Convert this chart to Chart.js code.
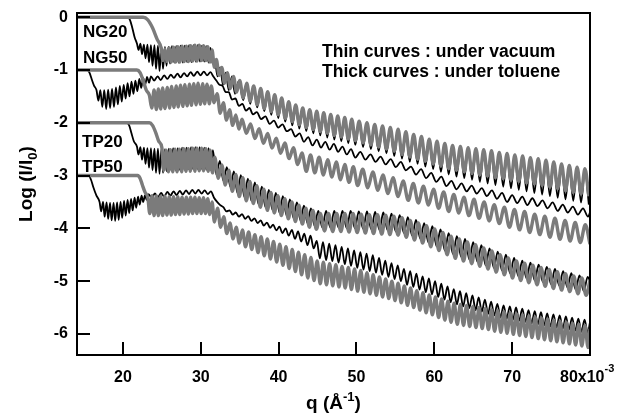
<!DOCTYPE html>
<html>
<head>
<meta charset="utf-8">
<script src="https://cdn.jsdelivr.net/npm/chart.js@4.4.0/dist/chart.umd.min.js"></script>
<style>
  html, body { margin: 0; padding: 0; background: #fff; }
  canvas { display: block; }
</style>
</head>
<body>
<canvas id="refl" width="623" height="416"></canvas>
<script>
// axis ticks: q in units of 1e-3 A^-1, Log(I/I0)
const qTicks = [20, 30, 40, 50, 60, 70, 80];
const logTicks = [0, -1, -2, -3, -4, -5, -6];
const sampleNames = ['NG20', 'NG50', 'TP20', 'TP50'];
const noteLines = ['Thin curves : under vacuum', 'Thick curves : under toluene'];

// [q, log(I/I0)] (fringe peaks and troughs)
const ng20Vacuum = [[14.1,0],[20.6,0],[20.9,-0.05],[21.2,-0.2],[21.5,-0.38],[21.8,-0.5],
  [22.0,-0.62],[22.25,-0.5],[22.45,-0.7],[22.7,-0.52],[22.9,-0.78],[23.15,-0.52],[23.35,-0.85],[23.6,-0.53],[23.8,-0.92],[24.05,-0.53],[24.25,-0.98],[24.5,-0.54],[24.7,-1.02],[24.95,-0.55],[25.15,-0.98],[25.4,-0.56],[25.6,-0.92],[25.85,-0.56],[26.05,-0.88],[26.3,-0.55],
  [26.6,-0.86],[26.85,-0.55],[27.15,-0.86],[27.4,-0.54],[27.7,-0.86],[27.95,-0.54],[28.25,-0.85],[28.5,-0.53],[28.8,-0.85],[29.05,-0.53],[29.35,-0.84],[29.6,-0.53],[29.9,-0.84],[30.15,-0.54],[30.45,-0.84],[30.7,-0.55],[31.0,-0.86],[31.25,-0.58],[31.5,-0.88],
  [31.8,-0.82],[32.15,-1.12],[32.5,-0.95],[32.85,-1.28],[33.2,-1.05],[33.6,-1.38],[34.0,-1.12],[34.4,-1.45],[34.9,-1.2],
  [35.45,-1.57],[35.9,-1.27],[36.35,-1.64],[36.8,-1.32],[37.25,-1.71],[37.7,-1.37],[38.15,-1.78],[38.6,-1.43],[39.05,-1.85],[39.5,-1.49],[39.95,-1.91],[40.4,-1.55],[40.85,-1.98],[41.3,-1.62],[41.75,-2.05],[42.2,-1.68],[42.65,-2.11],[43.1,-1.74],[43.55,-2.16],[44.0,-1.77],[44.45,-2.2],[44.9,-1.8],[45.35,-2.24],[45.8,-1.83],[46.25,-2.28],[46.7,-1.86],[47.15,-2.32],[47.6,-1.89],[48.05,-2.35],[48.5,-1.92],[48.95,-2.39],[49.4,-1.95],[49.85,-2.42],
  [50.35,-1.99],[50.85,-2.46],[51.35,-2.02],[51.85,-2.5],[52.35,-2.05],[52.85,-2.54],[53.35,-2.08],[53.85,-2.58],[54.35,-2.11],[54.85,-2.63],[55.35,-2.14],[55.85,-2.68],[56.35,-2.19],[56.85,-2.74],[57.35,-2.24],[57.85,-2.78],[58.35,-2.28],[58.85,-2.83],[59.35,-2.33],[59.85,-2.88],[60.35,-2.37],[60.85,-2.93],[61.35,-2.41],[61.85,-2.98],[62.35,-2.45],[62.85,-3.02],[63.35,-2.47],[63.85,-3.05],[64.35,-2.49],[64.85,-3.08],[65.35,-2.51],[65.85,-3.12],[66.35,-2.53],[66.85,-3.15],[67.35,-2.56],[67.85,-3.18],[68.35,-2.58],[68.85,-3.21],[69.35,-2.61],[69.85,-3.24],[70.35,-2.63],[70.85,-3.27],[71.35,-2.66],[71.85,-3.3],[72.35,-2.68],[72.85,-3.33],[73.35,-2.71],[73.85,-3.36],[74.35,-2.74],[74.85,-3.39],[75.35,-2.77],[75.85,-3.42],[76.35,-2.8],[76.85,-3.45],[77.35,-2.83],[77.85,-3.48],[78.35,-2.86],[78.85,-3.51],[79.35,-2.89],[79.85,-3.55]];

const ng20Toluene = [[14.1,0],[22.6,0],[23.2,-0.05],[23.8,-0.2],[24.4,-0.42],[24.9,-0.58],
  [25.15,-0.82],[25.4,-0.6],[25.65,-0.84],[25.95,-0.58],[26.2,-0.85],[26.5,-0.57],[26.75,-0.85],[27.05,-0.56],[27.3,-0.85],[27.6,-0.55],[27.85,-0.84],[28.15,-0.55],[28.4,-0.84],[28.7,-0.54],[28.95,-0.83],[29.25,-0.53],[29.5,-0.83],[29.8,-0.53],[30.1,-0.82],[30.35,-0.54],[30.65,-0.82],[30.9,-0.56],[31.2,-0.85],[31.45,-0.62],
  [31.75,-0.95],[32.0,-0.8],[32.35,-1.1],[32.7,-0.95],[33.05,-1.25],[33.4,-1.05],[33.8,-1.35],[34.2,-1.12],[34.6,-1.42],[35.0,-1.2],
  [35.45,-1.53],[35.9,-1.25],[36.35,-1.59],[36.8,-1.3],[37.25,-1.66],[37.7,-1.35],[38.15,-1.73],[38.6,-1.41],[39.05,-1.79],[39.5,-1.47],[39.95,-1.85],[40.4,-1.53],[40.85,-1.92],[41.3,-1.6],[41.75,-1.98],[42.2,-1.66],[42.65,-2.04],[43.1,-1.72],[43.55,-2.09],[44.0,-1.75],[44.45,-2.13],[44.9,-1.78],[45.35,-2.17],[45.8,-1.81],[46.25,-2.2],[46.7,-1.84],[47.15,-2.24],[47.6,-1.87],[48.05,-2.27],[48.5,-1.9],[48.95,-2.31],[49.4,-1.93],[49.85,-2.34],
  [50.35,-1.97],[50.85,-2.38],[51.35,-2.0],[51.85,-2.42],[52.35,-2.03],[52.85,-2.46],[53.35,-2.06],[53.85,-2.5],[54.35,-2.09],[54.85,-2.54],[55.35,-2.12],[55.85,-2.6],[56.35,-2.17],[56.85,-2.65],[57.35,-2.22],[57.85,-2.69],[58.35,-2.26],[58.85,-2.73],[59.35,-2.31],[59.85,-2.78],[60.35,-2.35],[60.85,-2.82],[61.35,-2.39],[61.85,-2.87],[62.35,-2.43],[62.85,-2.9],[63.35,-2.45],[63.85,-2.93],[64.35,-2.47],[64.85,-2.96],[65.35,-2.49],[65.85,-2.99],[66.35,-2.51],[66.85,-3.01],[67.35,-2.53],[67.85,-3.04],[68.35,-2.56],[68.85,-3.06],[69.35,-2.58],[69.85,-3.09],[70.35,-2.61],[70.85,-3.11],[71.35,-2.63],[71.85,-3.14],[72.35,-2.66],[72.85,-3.16],[73.35,-2.68],[73.85,-3.19],[74.35,-2.71],[74.85,-3.22],[75.35,-2.74],[75.85,-3.25],[76.35,-2.78],[76.85,-3.29],[77.35,-2.81],[77.85,-3.32],[78.35,-2.84],[78.85,-3.35],[79.35,-2.87],[79.85,-3.39]];

const ng50Vacuum = [[14.1,-1],[15.4,-1],[15.7,-1.05],[16.0,-1.18],[16.3,-1.3],[16.6,-1.38],
  [16.85,-1.58],[17.1,-1.38],[17.35,-1.7],[17.6,-1.38],[17.85,-1.74],[18.1,-1.37],[18.35,-1.72],[18.6,-1.36],[18.85,-1.7],[19.1,-1.33],[19.35,-1.65],[19.6,-1.3],[19.85,-1.6],[20.1,-1.28],[20.35,-1.54],[20.6,-1.25],[20.85,-1.5],[21.1,-1.22],[21.35,-1.45],[21.6,-1.2],[21.85,-1.4],[22.1,-1.17],[22.35,-1.34],[22.6,-1.15],[22.85,-1.28],[23.1,-1.13],[23.35,-1.24],[23.6,-1.12],
  [24.0,-1.2],[24.45,-1.12],[24.85,-1.19],[25.3,-1.1],[25.7,-1.17],[26.15,-1.09],[26.55,-1.15],[27.0,-1.07],[27.4,-1.14],[27.85,-1.06],[28.25,-1.12],[28.7,-1.04],[29.1,-1.11],[29.55,-1.03],[29.95,-1.1],[30.4,-1.03],[30.8,-1.1],[31.25,-1.04],[31.6,-1.12],
  [32.0,-1.2],[32.4,-1.28],[32.8,-1.3],[33.2,-1.42],[33.6,-1.42],[34.0,-1.56],[34.45,-1.54],[34.9,-1.68],[35.35,-1.64],[35.8,-1.77],[36.25,-1.72],[36.7,-1.84],
  [37.2,-1.8],[37.75,-1.93],[38.3,-1.88],[38.85,-2.02],[39.4,-1.96],[39.95,-2.09],[40.5,-2.03],[41.05,-2.16],[41.6,-2.12],[42.15,-2.26],[42.7,-2.2],[43.25,-2.36],[43.8,-2.27],[44.35,-2.43],[44.9,-2.32],[45.45,-2.47],[46.0,-2.36],[46.55,-2.51],[47.1,-2.4],[47.65,-2.55],[48.2,-2.45],[48.75,-2.6],[49.3,-2.5],[49.85,-2.66],
  [50.5,-2.55],[51.15,-2.7],[51.8,-2.6],[52.45,-2.74],[53.1,-2.64],[53.75,-2.79],[54.4,-2.69],[55.05,-2.84],[55.7,-2.74],[56.35,-2.9],[57.0,-2.83],[57.65,-2.98],[58.3,-2.88],[58.95,-3.05],[59.6,-2.95],[60.25,-3.12],[60.9,-3.02],[61.55,-3.2],[62.2,-3.1],[62.85,-3.26],[63.5,-3.15],[64.15,-3.3],[64.8,-3.19],[65.45,-3.34],[66.1,-3.24],[66.75,-3.39],[67.4,-3.28],[68.05,-3.44],[68.7,-3.33],[69.35,-3.5],[70.0,-3.37],[70.65,-3.52],[71.3,-3.4],[71.95,-3.56],[72.6,-3.43],[73.25,-3.58],[73.9,-3.47],[74.55,-3.62],[75.2,-3.51],[75.85,-3.67],[76.5,-3.55],[77.15,-3.7],[77.8,-3.59],[78.45,-3.74],[79.1,-3.62],[79.75,-3.78],[80.0,-3.7]];

const ng50Toluene = [[14.1,-1],[21.8,-1],[22.2,-1.05],[22.6,-1.2],[23.0,-1.38],[23.4,-1.48],
  [23.7,-1.72],[24.0,-1.38],[24.3,-1.75],[24.55,-1.36],[24.85,-1.74],[25.1,-1.34],[25.4,-1.73],[25.7,-1.33],[26.0,-1.72],[26.25,-1.31],[26.55,-1.71],[26.85,-1.3],[27.1,-1.7],[27.4,-1.29],[27.7,-1.69],[27.95,-1.28],[28.25,-1.68],[28.55,-1.27],[28.8,-1.67],[29.1,-1.26],[29.4,-1.66],[29.65,-1.25],[29.95,-1.65],[30.25,-1.26],[30.5,-1.64],[30.8,-1.27],[31.1,-1.64],[31.35,-1.3],
  [31.7,-1.62],[32.1,-1.45],[32.5,-1.82],[32.9,-1.62],[33.3,-1.95],[33.7,-1.75],[34.1,-2.05],[34.5,-1.85],[34.9,-2.12],
  [35.3,-1.93],[35.85,-2.2],[36.4,-2.02],[36.95,-2.3],[37.5,-2.11],[38.05,-2.39],[38.6,-2.2],[39.15,-2.48],[39.7,-2.29],[40.25,-2.58],[40.8,-2.38],[41.35,-2.68],[41.9,-2.47],[42.45,-2.79],[43.0,-2.57],[43.55,-2.92],[44.1,-2.61],[44.65,-2.95],[45.2,-2.65],[45.75,-2.99],[46.3,-2.7],[46.85,-3.03],[47.4,-2.74],[47.95,-3.08],[48.5,-2.79],[49.05,-3.13],[49.6,-2.83],[50.15,-3.19],
  [50.8,-2.88],[51.45,-3.23],[52.1,-2.93],[52.75,-3.28],[53.4,-2.99],[54.05,-3.34],[54.7,-3.04],[55.35,-3.4],[56.0,-3.1],[56.65,-3.47],[57.3,-3.15],[57.95,-3.52],[58.6,-3.2],[59.25,-3.56],[59.9,-3.26],[60.55,-3.62],[61.2,-3.31],[61.85,-3.68],[62.5,-3.36],[63.15,-3.71],[63.8,-3.41],[64.45,-3.76],[65.1,-3.45],[65.75,-3.81],[66.4,-3.5],[67.05,-3.86],[67.7,-3.55],[68.35,-3.91],[69.0,-3.6],[69.65,-3.98],[70.3,-3.64],[70.95,-4.03],[71.6,-3.68],[72.25,-4.08],[72.9,-3.73],[73.55,-4.12],[74.2,-3.77],[74.85,-4.17],[75.5,-3.81],[76.15,-4.21],[76.8,-3.85],[77.45,-4.24],[78.1,-3.89],[78.75,-4.27],[79.4,-3.93],[80.0,-4.3]];

const tp20Vacuum = [[14.1,-2],[20.5,-2],[20.8,-2.05],[21.1,-2.2],[21.4,-2.35],[21.8,-2.45],
  [22.0,-2.6],[22.25,-2.46],[22.45,-2.7],[22.7,-2.47],[22.9,-2.78],[23.15,-2.48],[23.35,-2.85],[23.6,-2.48],[23.8,-2.9],[24.05,-2.49],[24.25,-2.95],[24.5,-2.49],[24.7,-2.97],[24.95,-2.5],[25.15,-2.95],[25.4,-2.5],[25.6,-2.92],
  [25.9,-2.49],[26.2,-2.9],[26.45,-2.48],[26.75,-2.9],[27.05,-2.48],[27.3,-2.89],[27.6,-2.47],[27.9,-2.89],[28.15,-2.47],[28.45,-2.88],[28.75,-2.46],[29.0,-2.88],[29.3,-2.46],[29.6,-2.88],[29.85,-2.46],[30.15,-2.88],[30.45,-2.47],[30.7,-2.89],[31.0,-2.48],[31.3,-2.9],[31.55,-2.52],
  [32.0,-2.98],[32.45,-2.72],[32.9,-3.1],[33.35,-2.84],[33.8,-3.22],[34.25,-2.92],[34.7,-3.33],[35.15,-2.99],[35.6,-3.41],[36.05,-3.06],[36.5,-3.48],[36.95,-3.13],[37.4,-3.54],[37.85,-3.21],[38.3,-3.6],[38.75,-3.27],[39.2,-3.65],[39.65,-3.33],[40.1,-3.7],[40.55,-3.39],[41.0,-3.75],[41.45,-3.45],[41.9,-3.8],[42.35,-3.51],[42.8,-3.85],[43.25,-3.57],[43.7,-3.9],[44.15,-3.62],[44.6,-3.95],[45.1,-3.67],
  [45.6,-3.98],[46.1,-3.67],[46.65,-3.99],[47.15,-3.67],[47.7,-3.99],[48.2,-3.67],[48.75,-4.0],[49.25,-3.67],[49.8,-4.0],[50.3,-3.68],[50.85,-4.01],[51.35,-3.68],[51.9,-4.02],[52.4,-3.69],[52.95,-4.03],[53.45,-3.7],[54.0,-4.04],[54.5,-3.72],[55.05,-4.06],[55.55,-3.75],[56.1,-4.09],[56.6,-3.79],[57.15,-4.14],[57.65,-3.84],[58.2,-4.2],[58.7,-3.9],[59.25,-4.27],[59.75,-3.96],[60.3,-4.34],[60.8,-4.02],[61.35,-4.42],[61.85,-4.09],[62.4,-4.49],[62.9,-4.15],[63.45,-4.54],[63.95,-4.2],[64.5,-4.59],[65.0,-4.26],[65.55,-4.64],[66.05,-4.32],[66.6,-4.7],[67.1,-4.38],[67.65,-4.75],[68.15,-4.44],[68.7,-4.8],[69.2,-4.5],[69.75,-4.86],[70.25,-4.56],[70.8,-4.91],[71.3,-4.61],[71.85,-4.95],[72.35,-4.65],[72.9,-4.99],[73.4,-4.69],[73.95,-5.02],[74.45,-4.73],[75.0,-5.06],[75.5,-4.77],[76.05,-5.09],[76.55,-4.81],[77.1,-5.12],[77.6,-4.85],[78.15,-5.16],[78.65,-4.89],[79.2,-5.19],[79.7,-4.92],[80.0,-5.0]];

const tp20Toluene = [[14.1,-2],[23.4,-2],[23.8,-2.05],[24.2,-2.18],[24.6,-2.35],[25.0,-2.47],
  [25.25,-2.9],[25.55,-2.52],[25.85,-2.93],[26.1,-2.51],[26.4,-2.93],[26.7,-2.5],[26.95,-2.93],[27.25,-2.5],[27.55,-2.93],[27.8,-2.49],[28.1,-2.92],[28.4,-2.49],[28.65,-2.92],[28.95,-2.48],[29.25,-2.92],[29.5,-2.48],[29.8,-2.91],[30.1,-2.48],[30.35,-2.91],[30.65,-2.49],[30.95,-2.92],[31.2,-2.52],[31.5,-2.95],
  [31.8,-2.65],[32.25,-3.05],[32.7,-2.8],[33.15,-3.18],[33.6,-2.9],[34.05,-3.3],[34.5,-2.98],[34.95,-3.4],[35.4,-3.04],[35.85,-3.48],[36.3,-3.11],[36.75,-3.53],[37.2,-3.19],[37.65,-3.6],[38.1,-3.26],[38.55,-3.66],[39.0,-3.32],[39.45,-3.71],[39.9,-3.38],[40.35,-3.76],[40.8,-3.44],[41.25,-3.82],[41.7,-3.5],[42.15,-3.87],[42.6,-3.56],[43.05,-3.92],[43.5,-3.62],[43.95,-3.98],[44.4,-3.66],[44.85,-4.02],
  [45.35,-3.72],[45.9,-4.05],[46.4,-3.72],[46.95,-4.06],[47.45,-3.72],[48.0,-4.06],[48.5,-3.72],[49.05,-4.07],[49.55,-3.72],[50.1,-4.08],[50.6,-3.73],[51.15,-4.09],[51.65,-3.74],[52.2,-4.1],[52.7,-3.74],[53.25,-4.11],[53.75,-3.75],[54.3,-4.12],[54.8,-3.77],[55.35,-4.13],[55.85,-3.8],[56.4,-4.17],[56.9,-3.85],[57.45,-4.22],[57.95,-3.9],[58.5,-4.28],[59.0,-3.95],[59.55,-4.35],[60.05,-4.01],[60.6,-4.42],[61.1,-4.08],[61.65,-4.5],[62.15,-4.15],[62.7,-4.57],[63.2,-4.2],[63.75,-4.62],[64.25,-4.26],[64.8,-4.67],[65.3,-4.31],[65.85,-4.72],[66.35,-4.37],[66.9,-4.77],[67.4,-4.43],[67.95,-4.83],[68.45,-4.5],[69.0,-4.88],[69.5,-4.56],[70.05,-4.94],[70.55,-4.62],[71.1,-4.99],[71.6,-4.66],[72.15,-5.03],[72.65,-4.7],[73.2,-5.07],[73.7,-4.74],[74.25,-5.1],[74.75,-4.78],[75.3,-5.14],[75.8,-4.82],[76.35,-5.17],[76.85,-4.86],[77.4,-5.2],[77.9,-4.9],[78.45,-5.24],[78.95,-4.94],[79.5,-5.27],[80.0,-4.98]];

const tp50Vacuum = [[14.1,-3],[15.6,-3],[15.9,-3.08],[16.2,-3.22],[16.6,-3.38],[17.0,-3.5],
  [17.2,-3.68],[17.45,-3.5],[17.65,-3.78],[17.9,-3.51],[18.1,-3.82],[18.35,-3.52],[18.55,-3.85],[18.8,-3.52],[19.0,-3.86],[19.25,-3.51],[19.45,-3.84],[19.7,-3.5],[19.9,-3.8],[20.15,-3.48],[20.35,-3.76],[20.6,-3.46],[20.8,-3.71],[21.05,-3.44],[21.25,-3.66],[21.5,-3.42],[21.7,-3.61],[21.95,-3.4],[22.15,-3.55],[22.4,-3.38],[22.6,-3.5],[22.85,-3.37],[23.05,-3.46],
  [23.3,-3.35],[23.7,-3.43],[24.1,-3.34],[24.5,-3.41],[24.9,-3.33],[25.3,-3.4],[25.7,-3.31],[26.1,-3.38],[26.5,-3.3],[26.9,-3.37],[27.3,-3.29],[27.7,-3.36],[28.1,-3.28],[28.5,-3.35],[28.9,-3.27],[29.3,-3.34],[29.7,-3.27],[30.1,-3.34],[30.5,-3.28],[30.9,-3.35],[31.3,-3.3],
  [31.7,-3.42],[32.1,-3.5],[32.5,-3.56],[32.9,-3.6],[33.3,-3.68],[33.7,-3.66],[34.1,-3.74],[34.5,-3.7],[34.9,-3.78],[35.3,-3.73],[35.7,-3.82],[36.1,-3.77],[36.5,-3.86],[36.9,-3.81],[37.3,-3.9],[37.7,-3.85],[38.1,-3.95],[38.5,-3.89],[38.9,-3.99],[39.3,-3.93],[39.7,-4.04],[40.1,-3.97],[40.5,-4.09],[40.9,-4.0],[41.3,-4.14],[41.7,-4.03],[42.1,-4.2],[42.5,-4.06],[42.9,-4.25],[43.3,-4.1],[43.7,-4.32],[44.1,-4.14],[44.5,-4.38],
  [44.9,-4.24],[45.3,-4.57],[45.7,-4.26],[46.1,-4.6],[46.5,-4.29],[46.9,-4.62],[47.3,-4.32],[47.7,-4.65],[48.1,-4.35],[48.5,-4.68],[48.9,-4.38],[49.3,-4.71],[49.7,-4.42],[50.1,-4.75],[50.5,-4.45],[50.9,-4.78],[51.3,-4.48],[51.7,-4.81],[52.1,-4.51],[52.5,-4.84],[52.9,-4.56],[53.3,-4.88],[53.7,-4.61],[54.1,-4.92],[54.5,-4.66],[54.9,-4.96],[55.3,-4.7],[55.7,-5.0],[56.1,-4.77],[56.5,-5.07],[56.9,-4.81],[57.3,-5.11],[57.7,-4.86],[58.1,-5.16],[58.5,-4.91],[58.9,-5.21],[59.3,-4.95],[59.7,-5.25],[60.1,-5.0],[60.5,-5.3],[60.9,-5.05],[61.3,-5.35],[61.7,-5.1],[62.1,-5.4],[62.5,-5.15],[62.9,-5.44],[63.3,-5.19],[63.7,-5.48],[64.1,-5.23],[64.5,-5.51],[64.9,-5.27],[65.3,-5.55],[65.7,-5.31],[66.1,-5.58],[66.5,-5.35],[66.9,-5.62],[67.3,-5.39],[67.7,-5.65],[68.1,-5.43],[68.5,-5.69],[68.9,-5.46],[69.3,-5.71],[69.7,-5.48],[70.1,-5.73],[70.5,-5.5],[70.9,-5.75],[71.3,-5.52],[71.7,-5.77],[72.1,-5.55],[72.5,-5.8],[72.9,-5.57],[73.3,-5.82],[73.7,-5.59],[74.1,-5.84],[74.5,-5.61],[74.9,-5.86],[75.3,-5.63],[75.7,-5.88],[76.1,-5.65],[76.5,-5.9],[76.9,-5.67],[77.3,-5.92],[77.7,-5.69],[78.1,-5.94],[78.5,-5.71],[78.9,-5.96],[79.3,-5.73],[79.7,-5.98],[80.0,-5.78]];

const tp50Toluene = [[14.1,-3],[21.9,-3],[22.2,-3.05],[22.5,-3.18],[22.85,-3.32],[23.2,-3.42],
  [23.45,-3.72],[23.75,-3.38],[24.0,-3.76],[24.3,-3.38],[24.55,-3.76],[24.85,-3.39],[25.1,-3.76],[25.4,-3.39],[25.65,-3.75],[25.95,-3.4],[26.2,-3.75],[26.5,-3.4],[26.75,-3.74],[27.05,-3.4],[27.3,-3.74],[27.6,-3.41],[27.85,-3.73],[28.15,-3.41],[28.4,-3.73],[28.7,-3.41],[28.95,-3.72],[29.25,-3.41],[29.5,-3.72],[29.8,-3.42],[30.05,-3.72],[30.35,-3.42],[30.6,-3.72],[30.9,-3.44],[31.15,-3.74],[31.45,-3.5],
  [31.75,-3.88],[32.15,-3.62],[32.55,-3.98],[32.95,-3.78],[33.35,-4.1],[33.75,-3.9],[34.15,-4.2],[34.55,-3.98],[34.95,-4.28],[35.35,-4.03],[35.75,-4.35],[36.15,-4.07],[36.55,-4.4],[36.95,-4.12],[37.35,-4.46],[37.75,-4.16],[38.15,-4.52],[38.55,-4.2],[38.95,-4.58],[39.35,-4.25],[39.75,-4.64],[40.15,-4.3],[40.55,-4.7],[40.95,-4.35],[41.35,-4.76],[41.75,-4.4],[42.15,-4.82],[42.55,-4.45],[42.95,-4.88],[43.35,-4.5],[43.75,-4.94],[44.15,-4.55],[44.55,-4.99],
  [44.95,-4.62],[45.35,-5.05],[45.75,-4.64],[46.15,-5.07],[46.55,-4.67],[46.95,-5.09],[47.35,-4.69],[47.75,-5.11],[48.15,-4.72],[48.55,-5.13],[48.95,-4.74],[49.35,-5.16],[49.75,-4.77],[50.15,-5.19],[50.55,-4.8],[50.95,-5.21],[51.35,-4.84],[51.75,-5.24],[52.15,-4.88],[52.55,-5.27],[52.95,-4.92],[53.35,-5.3],[53.75,-4.96],[54.15,-5.33],[54.55,-5.0],[54.95,-5.37],[55.35,-5.04],[55.75,-5.41],[56.15,-5.09],[56.55,-5.46],[56.95,-5.13],[57.35,-5.5],[57.75,-5.18],[58.15,-5.55],[58.55,-5.22],[58.95,-5.6],[59.35,-5.26],[59.75,-5.64],[60.15,-5.3],[60.55,-5.69],[60.95,-5.34],[61.35,-5.74],[61.75,-5.38],[62.15,-5.78],[62.55,-5.42],[62.95,-5.82],[63.35,-5.44],[63.75,-5.84],[64.15,-5.46],[64.55,-5.86],[64.95,-5.48],[65.35,-5.88],[65.75,-5.5],[66.15,-5.9],[66.55,-5.52],[66.95,-5.92],[67.35,-5.54],[67.75,-5.95],[68.15,-5.56],[68.55,-5.97],[68.95,-5.58],[69.35,-5.99],[69.75,-5.6],[70.15,-6.01],[70.55,-5.62],[70.95,-6.03],[71.35,-5.64],[71.75,-6.05],[72.15,-5.66],[72.55,-6.07],[72.95,-5.68],[73.35,-6.09],[73.75,-5.7],[74.15,-6.11],[74.55,-5.72],[74.95,-6.13],[75.35,-5.74],[75.75,-6.15],[76.15,-5.76],[76.55,-6.17],[76.95,-5.78],[77.35,-6.19],[77.75,-5.8],[78.15,-6.21],[78.55,-5.82],[78.95,-6.23],[79.35,-5.84],[79.75,-6.26],[80.0,-5.9]];

const FONT = '"Liberation Sans", Arial, sans-serif';
const GREY = '#7b7b7b';

// thick grey curves sit on top of the thin black ones
function thin(label, data) {
  return { label, data, borderColor: '#000', borderWidth: 1.8, order: 1 };
}
function thick(label, data) {
  return { label, data, borderColor: GREY, borderWidth: 3.4, order: 0 };
}

// text made of pieces: [text, size, baseline shift]
function piecesWidth(ctx, pieces) {
  let w = 0;
  pieces.forEach(([t, s]) => { ctx.font = `bold ${s}px ${FONT}`; w += ctx.measureText(t).width; });
  return w;
}
function drawPieces(ctx, pieces, x, y) {
  let cx = x;
  pieces.forEach(([t, s, dy]) => {
    ctx.font = `bold ${s}px ${FONT}`;
    ctx.fillText(t, cx, y + dy);
    cx += ctx.measureText(t).width;
  });
}

const axesPlugin = {
  id: 'axesPlugin',
  afterDraw(chart) {
    const { ctx, chartArea: a, scales: { x, y } } = chart;
    ctx.save();
    ctx.strokeStyle = '#000';
    ctx.fillStyle = '#000';
    ctx.lineWidth = 2;
    ctx.strokeRect(a.left, a.top, a.right - a.left, a.bottom - a.top);

    // inward tick marks
    ctx.beginPath();
    qTicks.forEach(v => {
      if (v >= 80) return;
      const px = Math.round(x.getPixelForValue(v));
      ctx.moveTo(px, a.bottom);
      ctx.lineTo(px, a.bottom - 13);
    });
    logTicks.forEach(v => {
      const py = Math.round(y.getPixelForValue(v));
      ctx.moveTo(a.left, py);
      ctx.lineTo(a.left + 13, py);
    });
    ctx.stroke();

    // tick labels
    ctx.font = `bold 16px ${FONT}`;
    ctx.textBaseline = 'middle';
    ctx.textAlign = 'right';
    logTicks.forEach(v => ctx.fillText(String(v), a.left - 9, y.getPixelForValue(v)));
    ctx.textBaseline = 'alphabetic';
    qTicks.forEach(v => {
      const px = x.getPixelForValue(v);
      if (v === 80) {
        ctx.textAlign = 'left';
        drawPieces(ctx, [['80x10', 16, 0], ['-3', 11, -10]], px - 30, a.bottom + 27);
      } else {
        ctx.textAlign = 'center';
        ctx.font = `bold 16px ${FONT}`;
        ctx.fillText(String(v), px, a.bottom + 27);
      }
    });

    // axis titles
    ctx.textAlign = 'left';
    const xt = [['q (\u00C5', 19, 0], ['-1', 13, -8], [')', 19, 0]];
    drawPieces(ctx, xt, (a.left + a.right) / 2 - piecesWidth(ctx, xt) / 2, 409);
    const yt = [['Log (I/I', 19, 0], ['0', 13, 5], [')', 19, 0]];
    ctx.save();
    ctx.translate(32, (a.top + a.bottom) / 2);
    ctx.rotate(-Math.PI / 2);
    drawPieces(ctx, yt, -piecesWidth(ctx, yt) / 2, 0);
    ctx.restore();

    // sample names and note
    ctx.font = `bold 17px ${FONT}`;
    const namePos = [[83, 37], [83, 63], [82, 147], [82, 172]];
    sampleNames.forEach((n, i) => ctx.fillText(n, namePos[i][0], namePos[i][1]));
    ctx.font = `bold 17.5px ${FONT}`;
    noteLines.forEach((t, i) => ctx.fillText(t, 322, 57 + i * 20));
    ctx.restore();
  }
};

new Chart(document.getElementById('refl'), {
  type: 'line',
  data: {
    datasets: [
      thin('NG20 vacuum', ng20Vacuum),
      thin('NG50 vacuum', ng50Vacuum),
      thin('TP20 vacuum', tp20Vacuum),
      thin('TP50 vacuum', tp50Vacuum),
      thick('NG20 toluene', ng20Toluene),
      thick('NG50 toluene', ng50Toluene),
      thick('TP20 toluene', tp20Toluene),
      thick('TP50 toluene', tp50Toluene)
    ]
  },
  options: {
    responsive: false,
    animation: false,
    devicePixelRatio: 1,
    layout: { padding: { left: 77, top: 13, right: 33, bottom: 61 } },
    elements: {
      point: { radius: 0 },
      line: { cubicInterpolationMode: 'monotone', borderJoinStyle: 'round', fill: false }
    },
    plugins: { legend: { display: false }, tooltip: { enabled: false } },
    scales: {
      x: { type: 'linear', min: 14.1, max: 80, display: false },
      y: { type: 'linear', min: -6.4, max: 0.08, display: false }
    }
  },
  plugins: [axesPlugin]
});
</script>
</body>
</html>
